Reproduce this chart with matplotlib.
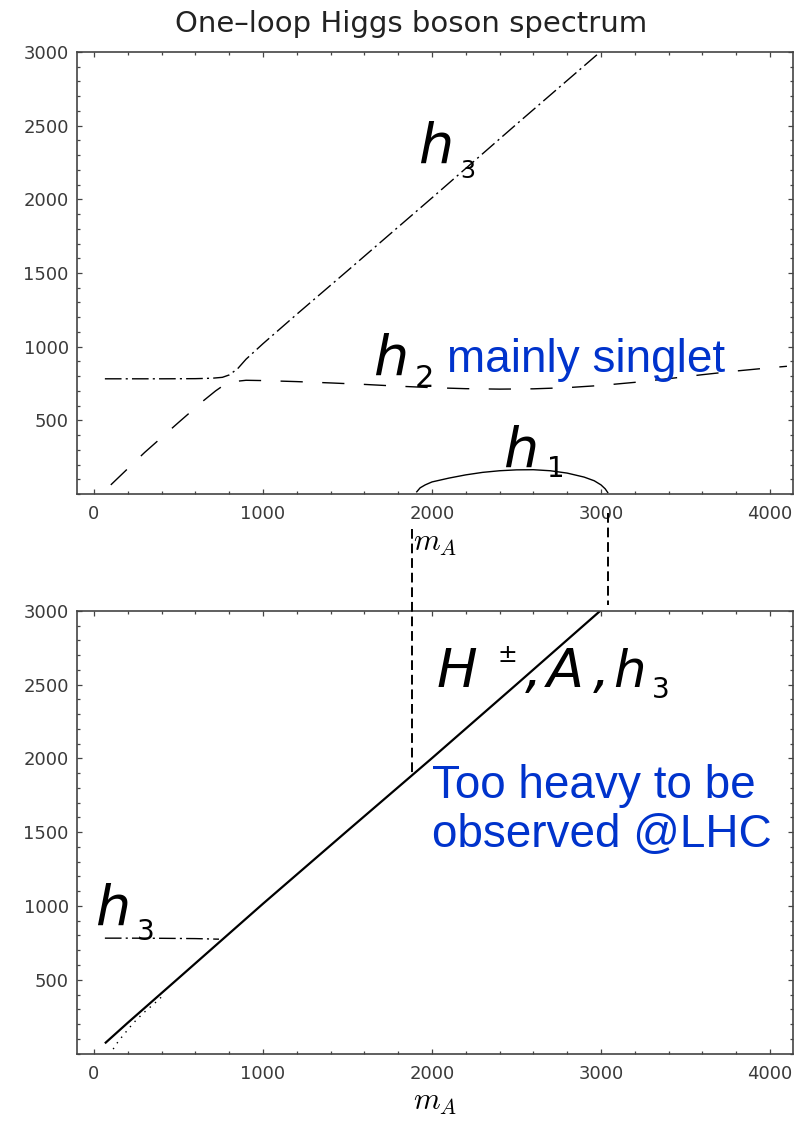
import matplotlib
matplotlib.use("Agg")
import matplotlib.pyplot as plt
from matplotlib.lines import Line2D
from matplotlib.ticker import MultipleLocator, FixedLocator

plt.rcParams['mathtext.fontset'] = 'cm'
plt.rcParams['font.family'] = ['DejaVu Sans']

# ---------------- upper panel: one-loop Higgs masses vs m_A ----------------
h1_mA = [1910, 1930, 1960, 2000, 2100, 2200, 2300, 2400, 2500, 2600, 2700,
         2800, 2900, 2960, 3000, 3025, 3040]
h1_mass = [15, 42, 62, 82, 108, 130, 147, 158, 164, 165, 158,
           142, 115, 90, 62, 35, 10]

h2_mA = [100, 300, 500, 650, 720, 770, 820, 900, 1000, 1200, 1400, 1600, 1800,
         2000, 2200, 2400, 2600, 2800, 3000, 3200, 3400, 3600, 3800, 4000, 4100]
h2_mass = [62, 282, 485, 635, 700, 740, 762, 772, 770, 763, 754, 744, 732,
           722, 715, 712, 714, 722, 737, 758, 783, 810, 835, 857, 867]

h3_mA = [65, 200, 400, 600, 700, 760, 800, 850, 900, 1000, 1200, 1500, 2000,
         2500, 2995]
h3_mass = [782, 782, 782, 783, 786, 792, 808, 850, 915, 1020, 1220, 1515, 2010,
           2510, 3000]

# ---------------- lower panel ----------------
heavy_mA = [70, 200, 500, 1000, 1500, 2000, 2500, 2995]
heavy_mass = [74, 208, 510, 1015, 1510, 2002, 2502, 3000]

charged_mA = [114, 144, 173, 233, 292, 361, 420]
charged_mass = [30, 82, 123, 206, 274, 342, 405]

h3_low_mA = [65, 200, 400, 600, 740]
h3_low_mass = [782, 782, 781, 779, 775]

# edges of the m_A window where h1 exists (guides between the panels)
window_edges = [1880, 3040]

x_ticks = [0, 1000, 2000, 3000, 4000]
y_ticks = [500, 1000, 1500, 2000, 2500, 3000]

BLUE = '#0033cc'
AXIS = '#444444'

fig = plt.figure(figsize=(7.97, 11.21), dpi=100)
ax1 = fig.add_axes([0.0966, 0.5593, 0.8984, 0.3943])
ax2 = fig.add_axes([0.0966, 0.0602, 0.8984, 0.3948])


def style(ax):
    ax.set_xlim(-100, 4136)
    ax.set_ylim(0, 3000)
    ax.xaxis.set_major_locator(FixedLocator(x_ticks))
    ax.xaxis.set_minor_locator(MultipleLocator(200))
    ax.yaxis.set_major_locator(FixedLocator(y_ticks))
    ax.yaxis.set_minor_locator(MultipleLocator(100))
    ax.tick_params(which='both', direction='in', top=True, right=True,
                   color=AXIS, width=0.9)
    ax.tick_params(which='major', length=3.8)
    ax.tick_params(which='minor', length=2.2)
    ax.tick_params(axis='x', which='major', pad=8, labelsize=13,
                   labelcolor='#3a3a3a')
    ax.tick_params(axis='y', which='major', pad=6, labelsize=13,
                   labelcolor='#3a3a3a')
    for s in ax.spines.values():
        s.set_color(AXIS)
        s.set_linewidth(1.2)
    ax.set_xlabel(r'$m_A$', fontsize=22, labelpad=4)


style(ax1)
style(ax2)

# upper panel curves
ax1.plot(h1_mA, h1_mass, color='black', lw=1.0)
ax1.plot(h2_mA, h2_mass, color='black', lw=1.0, dashes=(16, 14))
ax1.plot(h3_mA, h3_mass, color='black', lw=1.0, dashes=(12, 3, 1.5, 3))

# lower panel curves
ax2.plot(heavy_mA, heavy_mass, color='black', lw=1.6)
ax2.plot(charged_mA, charged_mass, color='black', lw=1.0, linestyle=(0, (1, 4)))
ax2.plot(h3_low_mA, h3_low_mass, color='black', lw=1.0, dashes=(12, 3, 1.5, 3))

fig.text(411 / 797, 0.9715, 'One\u2013loop Higgs boson spectrum', ha='center',
         va='baseline', fontsize=21, color='#222222')

# curve labels
hand = dict(family='DejaVu Sans', style='italic', color='black', ha='left',
            va='baseline')
sub = dict(family='DejaVu Sans', color='black', ha='left', va='baseline')

ax1.text(1917, 2247, 'h', fontsize=40, **hand)
ax1.text(2166, 2145, '3', fontsize=17, **sub)
ax1.text(1651, 812, 'h', fontsize=40, **hand)
ax1.text(1899, 724, '2', fontsize=22, **sub)
ax1.text(2089, 825, 'mainly singlet', fontsize=33, color=BLUE,
         family='Liberation Sans', ha='left', va='baseline')
ax1.text(2420, 188, 'h', fontsize=40, **hand)
ax1.text(2680, 114, '1', fontsize=20, **sub)

ax2.text(2030, 2484, 'H', fontsize=39, **hand)
ax2.text(2385, 2652, '\u00b1', fontsize=17, **sub)
ax2.text(2550, 2484, ',', fontsize=39, **hand)
ax2.text(2680, 2484, 'A', fontsize=39, **hand)
ax2.text(2950, 2484, ',', fontsize=39, **hand)
ax2.text(3070, 2484, 'h', fontsize=37, **hand)
ax2.text(3300, 2410, '3', fontsize=20, **sub)
ax2.text(6, 873, 'h', fontsize=40, **hand)
ax2.text(254, 771, '3', fontsize=20, **sub)

ax2.text(2000, 1733, 'Too heavy to be', fontsize=33, color=BLUE,
         family='Liberation Sans', ha='left', va='baseline')
ax2.text(2000, 1400, 'observed @LHC', fontsize=33, color=BLUE,
         family='Liberation Sans', ha='left', va='baseline')

# dashed guides linking the h1 window to the lower panel
inv = fig.transFigure.inverted()
left_x, right_x = window_edges
lx, ly_end = inv.transform(ax2.transData.transform((left_x, left_x)))
rx, _ = inv.transform(ax2.transData.transform((right_x, 0)))
guide = dict(color='black', lw=1.4, dashes=(5, 2.5), transform=fig.transFigure)
fig.add_artist(Line2D([lx, lx], [0.528, ly_end], **guide))
fig.add_artist(Line2D([rx, rx], [0.5424, 0.4603], **guide))

fig.savefig('out.png', dpi=100)
